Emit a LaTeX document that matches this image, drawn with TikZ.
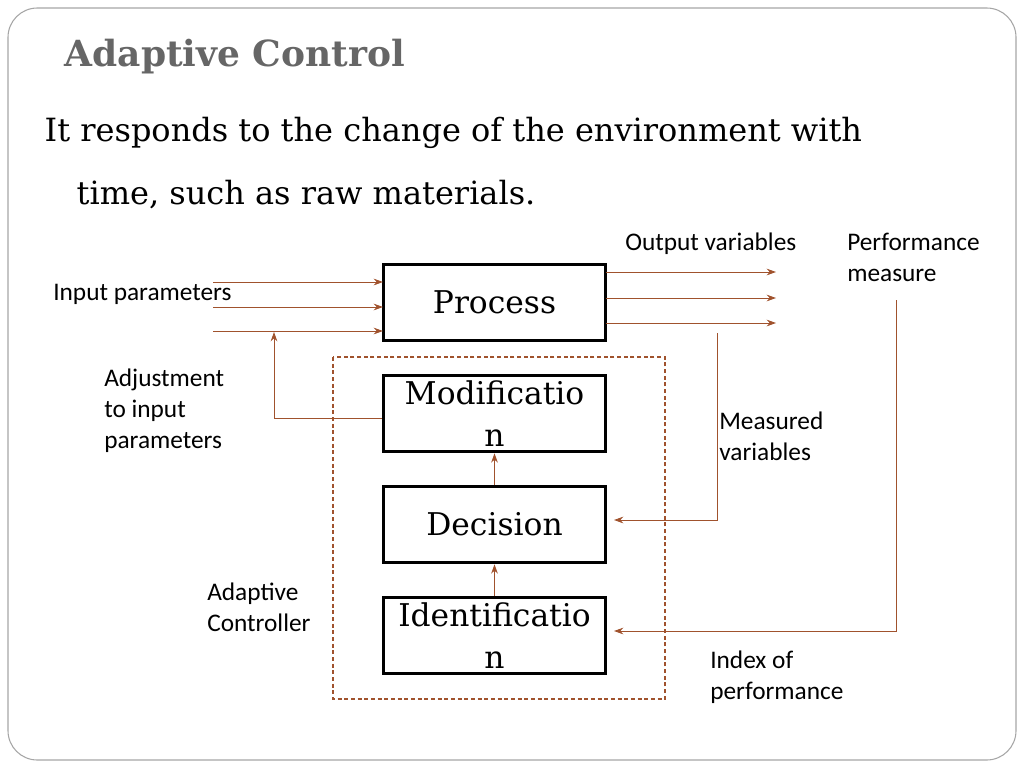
\documentclass[tikz,border=0pt]{standalone}
\usepackage{fontspec}
\setmainfont{DejaVu Serif}
\newfontfamily\lab{Carlito}
\usetikzlibrary{arrows.meta}
\definecolor{br}{HTML}{A0522D}
\begin{document}
\begin{tikzpicture}[x=0.75pt,y=-0.75pt,
 box/.style={draw=black,line width=2.2pt,minimum width=166.5pt,minimum height=57.5pt,inner sep=1pt,align=center,font=\fontsize{23.5}{31}\selectfont},
 lbl/.style={font=\lab\fontsize{19}{23}\selectfont,anchor=north west,align=left,inner sep=0pt},
 ar/.style={draw=br,line width=0.7pt,-{Stealth[length=7pt,width=5pt]}}]
\useasboundingbox (0,0) rectangle (1024,768);
\draw[gray!70,line width=0.8pt,rounded corners=22pt] (8,8) rectangle (1016,760);
\node[anchor=west,text=black!60,font=\bfseries\fontsize{27}{30}\selectfont] (title) at (60,57) {Adaptive Control};
\node[anchor=west,font=\fontsize{24}{28}\selectfont] (l1) at (40,133) {It responds to the change of the environment with};
\node[anchor=west,font=\fontsize{24}{28}\selectfont] (l2) at (72,195) {time, such as raw materials.};
\node[box] (p) at (494.5,302.5) {Process};
\node[box] (m) at (494.5,413.5) {Modificatio\\n};
\node[box] (d) at (494.5,524.5) {Decision};
\node[box] (i) at (494.5,635.5) {Identificatio\\n};
\draw[draw=br,dash pattern=on 3pt off 2pt,line width=0.8pt] (333,357) rectangle (665,699);
\foreach \y/\n in {282/a,307/b,331/c}{\coordinate (in\n) at (213,\y); \draw[ar] (in\n) -- (383,\y);}
\foreach \y/\n in {272/a,298/b,323/c}{\coordinate (out\n) at (776,\y); \draw[ar] (606,\y) -- (out\n);}
\coordinate (adj) at (274,332);
\draw[ar] (m.west |- 0,418) -- (274,418) -- (adj);
\coordinate (ms) at (717,333);
\draw[ar] (ms) -- (717,520) -- (614,520);
\coordinate (pf) at (896,300);
\draw[ar] (pf) -- (896,631) -- (614,631);
\draw[ar] (d.north) -- (m.south);
\draw[ar] (i.north) -- (d.south);
\node[lbl] (t1) at (53,284) {Input parameters};
\node[lbl] (t2) at (625,233) {Output variables};
\node[lbl] (t3) at (847,233) {Performance\\measure};
\node[lbl] (t4) at (104,369) {Adjustment\\to input\\parameters};
\node[lbl] (t5) at (719,412) {Measured\\variables};
\node[lbl] (t6) at (207,583) {Adaptive\\Controller};
\node[lbl] (t7) at (710,651) {Index of\\performance};
\end{tikzpicture}
\end{document}
